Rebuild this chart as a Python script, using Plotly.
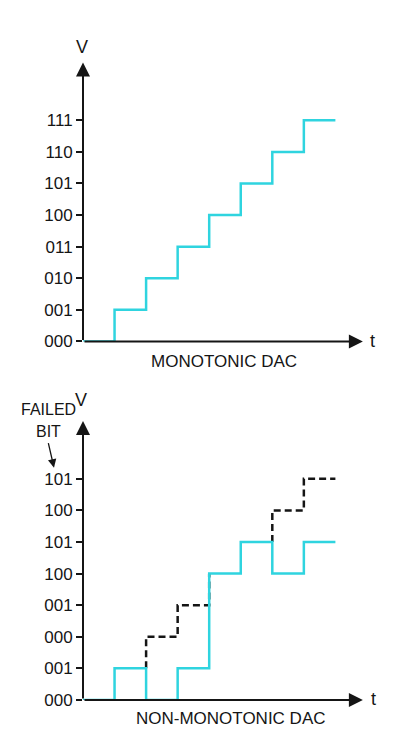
import plotly.graph_objects as go

# Output codes over time for each DAC
t_steps = [0, 1, 2, 3, 4, 5, 6, 7, 8]
monotonic_codes = [0, 1, 2, 3, 4, 5, 6, 7, 7]
nonmono_codes = [0, 1, 0, 1, 4, 5, 4, 5, 5]
# Ideal path, shown only where the failed bit makes the output diverge
ideal_t = [2, 2, 3, 4, None, 6, 6, 7, 8]
ideal_codes = [1, 2, 3, 4, None, 5, 6, 7, 7]

top_labels = ["000", "001", "010", "011", "100", "101", "110", "111"]
bottom_labels = ["000", "001", "000", "001", "100", "101", "100", "101"]
levels = list(range(8))

W, H = 416, 731
FIG_H = 742        # layout height
AX_X = 83          # pixel column of the V axis
UNIT = 31.55       # pixels per step/code
T_TIP = 8.87       # end of the time arrow
V_TIP = 8.83       # end of the voltage arrow

CYAN = "#2fd4df"
INK = "#151515"
FONT = "Liberation Sans, Arial, sans-serif"


def ydomain(base_px):
    lo = (H - base_px) / H
    hi = (H - (base_px - V_TIP * UNIT)) / H
    return [lo, hi]


fig = go.Figure()

fig.add_trace(go.Scatter(x=t_steps, y=monotonic_codes, mode="lines", line_shape="hv",
                         line=dict(color=CYAN, width=2.5), xaxis="x", yaxis="y",
                         hoverinfo="skip"))
fig.add_trace(go.Scatter(x=ideal_t, y=ideal_codes, mode="lines", line_shape="hv",
                         connectgaps=False,
                         line=dict(color=INK, width=2.5, dash="7px,4px"), xaxis="x2", yaxis="y2",
                         hoverinfo="skip"))
fig.add_trace(go.Scatter(x=t_steps, y=nonmono_codes, mode="lines", line_shape="hv",
                         line=dict(color=CYAN, width=2.5), xaxis="x2", yaxis="y2",
                         hoverinfo="skip"))

xspan = [0, (W - AX_X) / UNIT]
xdom = [AX_X / W, 1]
common_x = dict(range=xspan, domain=xdom, showgrid=False, zeroline=False, showline=False,
                showticklabels=False, ticks="", fixedrange=True)
common_y = dict(range=[0, V_TIP], showgrid=False, zeroline=False, showline=False,
                tickmode="array", tickvals=levels, ticks="outside", ticklen=6, tickwidth=2,
                tickcolor=INK, tickfont=dict(family=FONT, size=17, color=INK),
                fixedrange=True)

fig.update_layout(
    width=W, height=FIG_H, margin=dict(l=0, r=0, t=0, b=0),
    paper_bgcolor="white", plot_bgcolor="rgba(0,0,0,0)", showlegend=False,
    xaxis=dict(**common_x, anchor="y"),
    yaxis=dict(**common_y, anchor="x", domain=ydomain(341), ticktext=top_labels),
    xaxis2=dict(**common_x, anchor="y2"),
    yaxis2=dict(**common_y, anchor="x2", domain=ydomain(699), ticktext=bottom_labels),
)

ann = []
for xa, ya in (("x", "y"), ("x2", "y2")):
    # time axis arrow
    ann.append(dict(x=T_TIP, y=0, ax=0, ay=0, xref=xa, yref=ya, axref=xa, ayref=ya,
                    text="", showarrow=True, arrowhead=2, arrowsize=1.4, arrowwidth=2,
                    arrowcolor=INK, standoff=0, startstandoff=0))
    # voltage axis arrow
    ann.append(dict(x=0, y=V_TIP, ax=0, ay=0, xref=xa, yref=ya, axref=xa, ayref=ya,
                    text="", showarrow=True, arrowhead=2, arrowsize=1.4, arrowwidth=2,
                    arrowcolor=INK, standoff=0, startstandoff=0))


def label(text, x, y, size=16, xanchor="center"):
    ann.append(dict(text=text, x=x / W, y=1 - y / H, xref="paper", yref="paper",
                    showarrow=False, xanchor=xanchor, yanchor="middle",
                    font=dict(family=FONT, size=size, color=INK)))


label("V", 82, 47, 18)
label("t", 372, 341, 18)
label("MONOTONIC DAC", 224, 361, 17)
label("V", 81, 399, 18)
label("t", 373, 698, 18)
label("NON-MONOTONIC DAC", 231, 718, 17)
label("FAILED", 48, 409, 16)
label("BIT", 48, 431, 16)

# pointer from the FAILED BIT note to the top code label
ann.append(dict(x=54 / W, y=1 - 467 / H, ax=-6, ay=-26, xref="paper", yref="paper",
                axref="pixel", ayref="pixel", text="", showarrow=True, arrowhead=2,
                arrowsize=1.3, arrowwidth=1.3, arrowcolor=INK, standoff=0))

fig.update_layout(annotations=ann)

fig.write_html("out.html")
